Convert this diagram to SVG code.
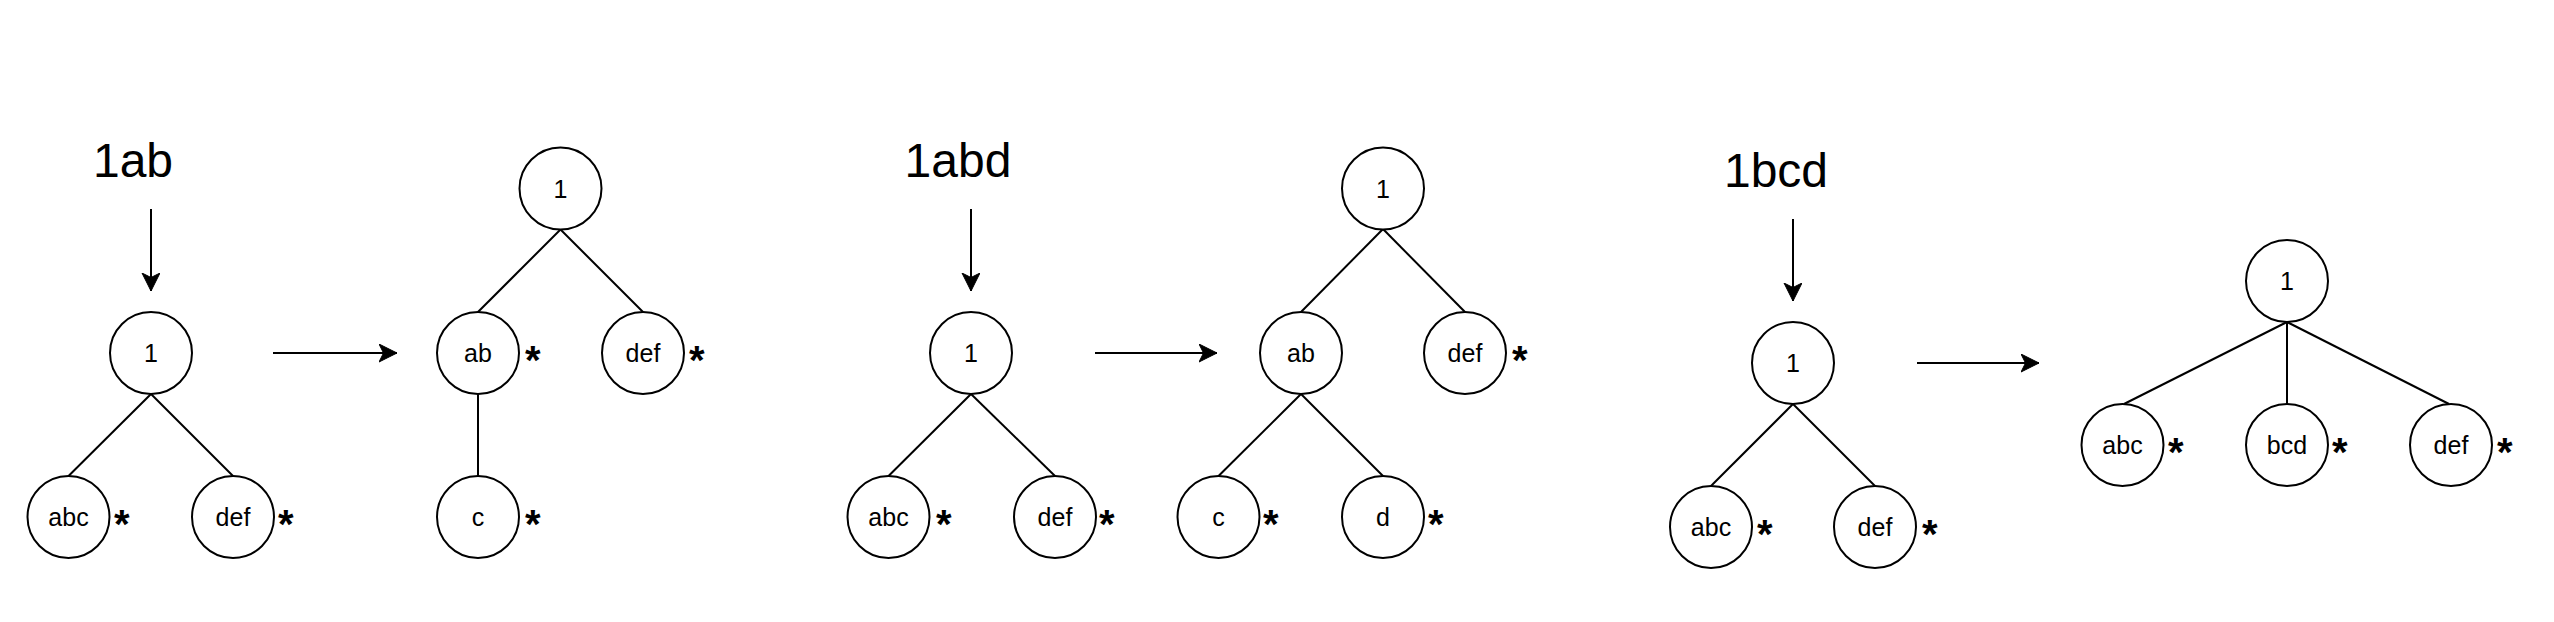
<svg xmlns="http://www.w3.org/2000/svg" width="2554" height="622" viewBox="0 0 2554 622">
<style>
.n{fill:#fff;stroke:#000;stroke-width:2}
.e{stroke:#000;stroke-width:2;fill:none}
.a{stroke:#000;stroke-width:2;fill:none;marker-end:url(#ah)}
.l{font-family:"Liberation Sans",Arial,sans-serif;font-size:25px;text-anchor:middle;fill:#000}
.s{font-family:"Liberation Sans",Arial,sans-serif;font-size:40px;font-weight:bold;fill:#000}
.t{font-family:"Liberation Sans",Arial,sans-serif;font-size:48px;text-anchor:middle;fill:#000}
</style>
<defs>
<marker id="ah" markerUnits="userSpaceOnUse" markerWidth="20" markerHeight="20" refX="18" refY="9" orient="auto" viewBox="0 0 20 20">
<path d="M0,0 L18,9 L0,18 L4.5,9 Z" fill="#000" stroke="#000" stroke-width="1"/>
</marker>
</defs>
<rect width="2554" height="622" fill="#fff"/>

<g id="connectors">
<path class="a" d="M151,209 L151,291"/>
<path class="a" d="M971,209 L971,291"/>
<path class="a" d="M1793,219 L1793,301"/>
<path class="a" d="M273,353 L397,353"/>
<path class="a" d="M1095,353 L1217,353"/>
<path class="a" d="M1917,363 L2039,363"/>
<path class="e" d="M151,394 L68.5,476"/>
<path class="e" d="M151,394 L233,476"/>
<path class="e" d="M560.5,229.5 L478,312"/>
<path class="e" d="M560.5,229.5 L643,312"/>
<path class="e" d="M478,394 L478,476"/>
<path class="e" d="M971,394 L888.5,476"/>
<path class="e" d="M971,394 L1055,476"/>
<path class="e" d="M1383,229 L1301,312"/>
<path class="e" d="M1383,229 L1465,312"/>
<path class="e" d="M1301,394 L1218.5,476"/>
<path class="e" d="M1301,394 L1383,476"/>
<path class="e" d="M1793,404 L1711,486"/>
<path class="e" d="M1793,404 L1875,486"/>
<path class="e" d="M2287,322 L2124,404"/>
<path class="e" d="M2287,322 L2287,404"/>
<path class="e" d="M2287,322 L2449,404"/>
</g>

<g id="titles">
<text class="t" x="133" y="177">1ab</text>
<text class="t" x="958" y="177">1abd</text>
<text class="t" x="1776" y="187">1bcd</text>
</g>

<g id="a-root"><circle class="n" cx="151" cy="353" r="41"/><text class="l" x="151" y="362">1</text></g>
<g id="a-abc"><circle class="n" cx="68.5" cy="517" r="41"/><text class="l" x="68.5" y="526">abc</text><text class="s" x="114" y="538">*</text></g>
<g id="a-def"><circle class="n" cx="233" cy="517" r="41"/><text class="l" x="233" y="526">def</text><text class="s" x="278" y="538">*</text></g>

<g id="b-root"><circle class="n" cx="560.5" cy="188.5" r="41"/><text class="l" x="560.5" y="197.5">1</text></g>
<g id="b-ab"><circle class="n" cx="478" cy="353" r="41"/><text class="l" x="478" y="362">ab</text><text class="s" x="525" y="374">*</text></g>
<g id="b-def"><circle class="n" cx="643" cy="353" r="41"/><text class="l" x="643" y="362">def</text><text class="s" x="689" y="374">*</text></g>
<g id="b-c"><circle class="n" cx="478" cy="517" r="41"/><text class="l" x="478" y="526">c</text><text class="s" x="525" y="538">*</text></g>

<g id="c-root"><circle class="n" cx="971" cy="353" r="41"/><text class="l" x="971" y="362">1</text></g>
<g id="c-abc"><circle class="n" cx="888.5" cy="517" r="41"/><text class="l" x="888.5" y="526">abc</text><text class="s" x="936" y="538">*</text></g>
<g id="c-def"><circle class="n" cx="1055" cy="517" r="41"/><text class="l" x="1055" y="526">def</text><text class="s" x="1099" y="538">*</text></g>

<g id="d-root"><circle class="n" cx="1383" cy="188.5" r="41"/><text class="l" x="1383" y="197.5">1</text></g>
<g id="d-ab"><circle class="n" cx="1301" cy="353" r="41"/><text class="l" x="1301" y="362">ab</text></g>
<g id="d-def"><circle class="n" cx="1465" cy="353" r="41"/><text class="l" x="1465" y="362">def</text><text class="s" x="1512" y="374">*</text></g>
<g id="d-c"><circle class="n" cx="1218.5" cy="517" r="41"/><text class="l" x="1218.5" y="526">c</text><text class="s" x="1263" y="538">*</text></g>
<g id="d-d"><circle class="n" cx="1383" cy="517" r="41"/><text class="l" x="1383" y="526">d</text><text class="s" x="1428" y="538">*</text></g>

<g id="e-root"><circle class="n" cx="1793" cy="363" r="41"/><text class="l" x="1793" y="372">1</text></g>
<g id="e-abc"><circle class="n" cx="1711" cy="527" r="41"/><text class="l" x="1711" y="536">abc</text><text class="s" x="1757" y="548">*</text></g>
<g id="e-def"><circle class="n" cx="1875" cy="527" r="41"/><text class="l" x="1875" y="536">def</text><text class="s" x="1922" y="548">*</text></g>

<g id="f-root"><circle class="n" cx="2287" cy="281" r="41"/><text class="l" x="2287" y="290">1</text></g>
<g id="f-abc"><circle class="n" cx="2122.5" cy="445" r="41"/><text class="l" x="2122.5" y="454">abc</text><text class="s" x="2168" y="466">*</text></g>
<g id="f-bcd"><circle class="n" cx="2287" cy="445" r="41"/><text class="l" x="2287" y="454">bcd</text><text class="s" x="2332" y="466">*</text></g>
<g id="f-def"><circle class="n" cx="2451" cy="445" r="41"/><text class="l" x="2451" y="454">def</text><text class="s" x="2497" y="466">*</text></g>
</svg>
